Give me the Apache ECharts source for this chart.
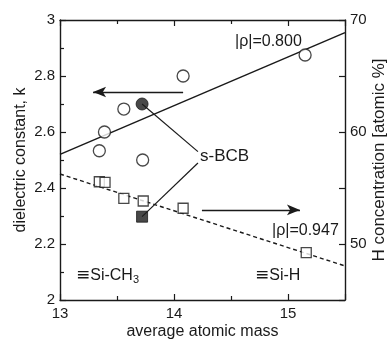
<!DOCTYPE html>
<html><head><meta charset="utf-8">
<script src="https://cdn.jsdelivr.net/npm/echarts@6/dist/echarts.min.js"></script>
<style>html,body{margin:0;padding:0;background:#fff}#c{width:388px;height:339px}</style>
</head><body><div id="c"></div>
<script>
// dielectric constant k (left axis)
const kMass = [13.345, 13.39, 13.56, 13.725, 14.08, 15.15];
const kValue = [2.533, 2.60, 2.682, 2.50, 2.80, 2.875];
const kBCB = [[13.72, 2.70]];
// H concentration (right axis)
const hMass = [13.345, 13.395, 13.56, 13.73, 14.08, 15.16];
const hValue = [55.56, 55.5, 54.08, 53.84, 53.19, 49.23];
const hBCB = [[13.72, 52.44]];
// regression lines
const kFit = [[13, 2.52], [15.5, 2.955]];
const hFit = [[13, 56.25], [15.5, 48.04]];
// tick labels
const xTicks = [13, 14, 15];
const hTicks = [50, 60, 70];

const FONT = '"Liberation Sans", Arial, "DejaVu Sans", sans-serif';
const INK = '#1a1a1a';
const chart = echarts.init(document.getElementById('c'));
const axisCommon = {
  nameMoveOverlap: false,
  axisLine: {show: true, lineStyle: {color: INK, width: 1.4}},
  axisTick: {show: true, inside: true, length: 6, lineStyle: {color: INK, width: 1.2}},
  minorTick: {show: true, splitNumber: 2, length: 4, lineStyle: {color: INK, width: 1.2}},
  splitLine: {show: false},
  axisLabel: {color: INK, fontSize: 15, fontFamily: FONT}
};
chart.setOption({
  animation: false,
  backgroundColor: '#fff',
  grid: {left: 60, right: 43, top: 20, bottom: 39, containLabel: false, outerBoundsMode: 'none'},
  xAxis: [
    Object.assign({}, axisCommon, {
      type: 'value', min: 13, max: 15.5, interval: 1, position: 'bottom',
      name: 'average atomic mass', nameLocation: 'middle', nameGap: 24,
      nameTextStyle: {color: INK, fontSize: 16, fontFamily: FONT},
      axisLabel: Object.assign({}, axisCommon.axisLabel, {margin: 6,
        formatter: v => xTicks.includes(v) ? String(v) : ''})
    }),
    Object.assign({}, axisCommon, {
      type: 'value', min: 13, max: 15.5, interval: 1, position: 'top',
      axisLabel: {show: false}
    })
  ],
  yAxis: [
    Object.assign({}, axisCommon, {
      type: 'value', min: 2, max: 3, interval: 0.2, position: 'left',
      name: 'dielectric constant, k', nameLocation: 'middle', nameGap: 31,
      nameTextStyle: {color: INK, fontSize: 16, fontFamily: FONT},
      axisLabel: Object.assign({}, axisCommon.axisLabel, {margin: 5,
        formatter: v => (Math.abs(v - Math.round(v)) < 1e-9) ? String(Math.round(v)) : v.toFixed(1)})
    }),
    Object.assign({}, axisCommon, {
      type: 'value', min: 45, max: 70, interval: 5, position: 'right',
      minorTick: {show: false},
      name: 'H concentration [atomic %]', nameLocation: 'middle', nameGap: 26,
      nameRotate: 90,
      nameTextStyle: {color: INK, fontSize: 17, fontFamily: FONT},
      axisLabel: Object.assign({}, axisCommon.axisLabel, {margin: 5,
        formatter: v => hTicks.includes(v) ? String(v) : ''})
    })
  ],
  series: [
    {type: 'line', data: kFit, yAxisIndex: 0, showSymbol: false, symbol: 'none',
     lineStyle: {color: INK, width: 1.5}, z: 2},
    {type: 'line', data: hFit, yAxisIndex: 1, showSymbol: false, symbol: 'none',
     lineStyle: {color: INK, width: 1.4, type: [4, 3]}, z: 2},
    {type: 'scatter', yAxisIndex: 0, data: kMass.map((x, i) => [x, kValue[i]]),
     symbol: 'circle', symbolSize: 12,
     itemStyle: {color: '#fff', borderColor: INK, borderWidth: 1.3}, z: 5,
     markLine: {silent: true, symbol: ['none', 'arrow'], symbolSize: [8, 13],
       lineStyle: {type: 'solid', color: INK, width: 1.4}, label: {show: false},
       data: [[{coord: [14.08, 2.743]}, {coord: [13.29, 2.743]}]]}},
    {type: 'scatter', yAxisIndex: 0, data: kBCB, symbol: 'circle', symbolSize: 12,
     itemStyle: {color: INK, borderColor: INK, borderWidth: 1}, z: 6,
     markLine: {silent: true, symbol: ['none', 'none'],
       lineStyle: {type: 'solid', color: INK, width: 1.2}, label: {show: false},
       data: [[{coord: [13.72, 2.70]}, {coord: [14.21, 2.53]}]]}},
    {type: 'scatter', yAxisIndex: 1, data: hMass.map((x, i) => [x, hValue[i]]),
     symbol: 'rect', symbolSize: 10,
     itemStyle: {color: '#fff', borderColor: INK, borderWidth: 1.3}, z: 5,
     markLine: {silent: true, symbol: ['none', 'arrow'], symbolSize: [8, 13],
       lineStyle: {type: 'solid', color: INK, width: 1.4}, label: {show: false},
       data: [[{coord: [14.245, 53.04]}, {coord: [15.105, 53.04]}]]}},
    {type: 'scatter', yAxisIndex: 1, data: hBCB, symbol: 'rect', symbolSize: 11,
     itemStyle: {color: INK, borderColor: INK, borderWidth: 1}, z: 6,
     markLine: {silent: true, symbol: ['none', 'none'],
       lineStyle: {type: 'solid', color: INK, width: 1.2}, label: {show: false},
       data: [[{coord: [13.72, 52.44]}, {coord: [14.21, 57.23]}]]}}
  ],
  graphic: [
    {type: 'text', left: 235, top: 34, style: {text: '|ρ|=0.800', font: '16px ' + FONT, fill: INK}},
    {type: 'text', left: 272, top: 223, style: {text: '|ρ|=0.947', font: '16px ' + FONT, fill: INK}},
    {type: 'text', left: 200, top: 148, style: {text: 's-BCB', font: '17px ' + FONT, fill: INK}},
    {type: 'text', left: 76, top: 267, style: {
      text: '{e|≡}Si-CH{s|3}', fill: INK, font: '16px ' + FONT,
      rich: {e: {fontSize: 17, fontFamily: '"DejaVu Sans"', fill: INK},
             s: {fontSize: 11, fontFamily: FONT, fill: INK, padding: [8, 0, 0, 0]}}}},
    {type: 'text', left: 255, top: 267, style: {
      text: '{e|≡}Si-H', fill: INK, font: '16px ' + FONT,
      rich: {e: {fontSize: 17, fontFamily: '"DejaVu Sans"', fill: INK}}}}
  ]
});
</script></body></html>
